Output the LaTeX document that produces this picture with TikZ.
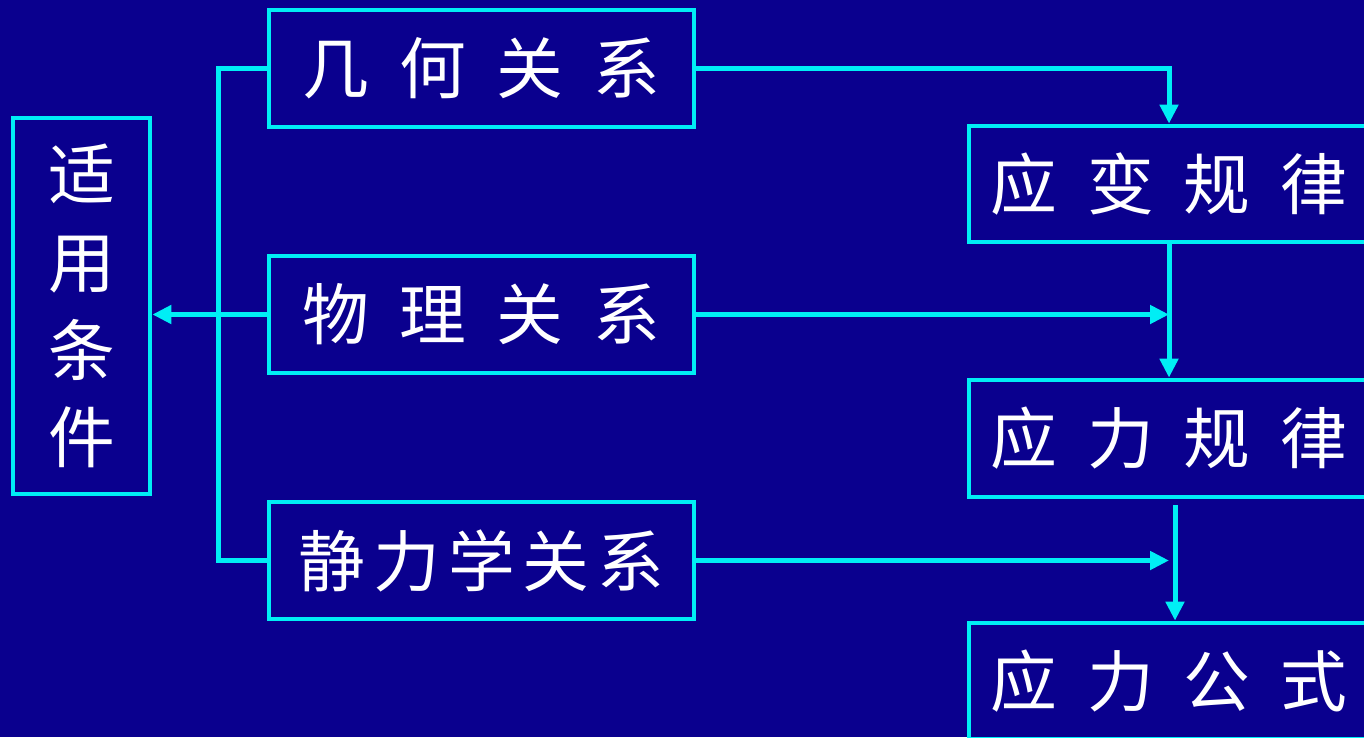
\documentclass[tikz,border=0pt]{standalone}
\usepackage{fontspec}
\newfontfamily\cjk{Noto Sans CJK SC}
\usetikzlibrary{arrows.meta,calc}
\definecolor{bgblue}{RGB}{10,0,142}
\definecolor{cyanline}{RGB}{0,238,245}
\newcommand\gapA{\hspace{0.45em}}
\newcommand\gapB{\hspace{0.12em}}
\tikzset{
  box/.style={draw=cyanline, line width=0.095cm, text=white, inner sep=0pt,
    font=\cjk\fontsize{38pt}{50pt}\selectfont, align=center},
  conn/.style={draw=cyanline, line width=0.1cm},
  arr/.style={conn, -{Triangle[length=0.38cm,width=0.36cm]}}
}
\begin{document}
\begin{tikzpicture}[x=0.02cm,y=-0.02cm]
\useasboundingbox (0,0) rectangle (1364,737);
\fill[bgblue] (0,0) rectangle (1364,737);
\clip (0,0) rectangle (1364,737);
% left box
\node[box, minimum width=2.74cm, minimum height=7.52cm] (cond) at (81.5,306) {适\\用\\条\\件};
% middle boxes
\node[box, minimum width=8.5cm, minimum height=2.34cm] (geo) at (481.5,68.5) {几\gapA 何\gapA 关\gapA 系};
\node[box, minimum width=8.5cm, minimum height=2.34cm] (phys) at (481.5,314.5) {物\gapA 理\gapA 关\gapA 系};
\node[box, minimum width=8.5cm, minimum height=2.34cm] (stat) at (481.5,560.5) {静\gapB 力\gapB 学\gapB 关\gapB 系};
% right boxes
\node[box, minimum width=8cm, minimum height=2.32cm] (strain) at (1169,184) {应\gapA 变\gapA 规\gapA 律};
\node[box, minimum width=8cm, minimum height=2.34cm] (stress) at (1169,438.5) {应\gapA 力\gapA 规\gapA 律};
\node[box, minimum width=8cm, minimum height=2.32cm] (formula) at (1169,681) {应\gapA 力\gapA 公\gapA 式};
% bracket on the left
\draw[conn] (geo.west) -- ++(-48,0) |- (stat.west);
\draw[arr] (phys.west) -- (phys.west -| cond.east);
% right connectors
\draw[arr] (geo.east) -| (strain.north);
\draw[arr] (strain.south) -- (stress.north);
\draw[arr] (phys.east) -- (phys.east -| strain.south);
\coordinate (s1) at ($(stress.south)+(6,6)$);
\draw[arr] (s1) -- (s1 |- formula.north);
\draw[arr] (stat.east) -- (stat.east -| strain.south);
\end{tikzpicture}
\end{document}
